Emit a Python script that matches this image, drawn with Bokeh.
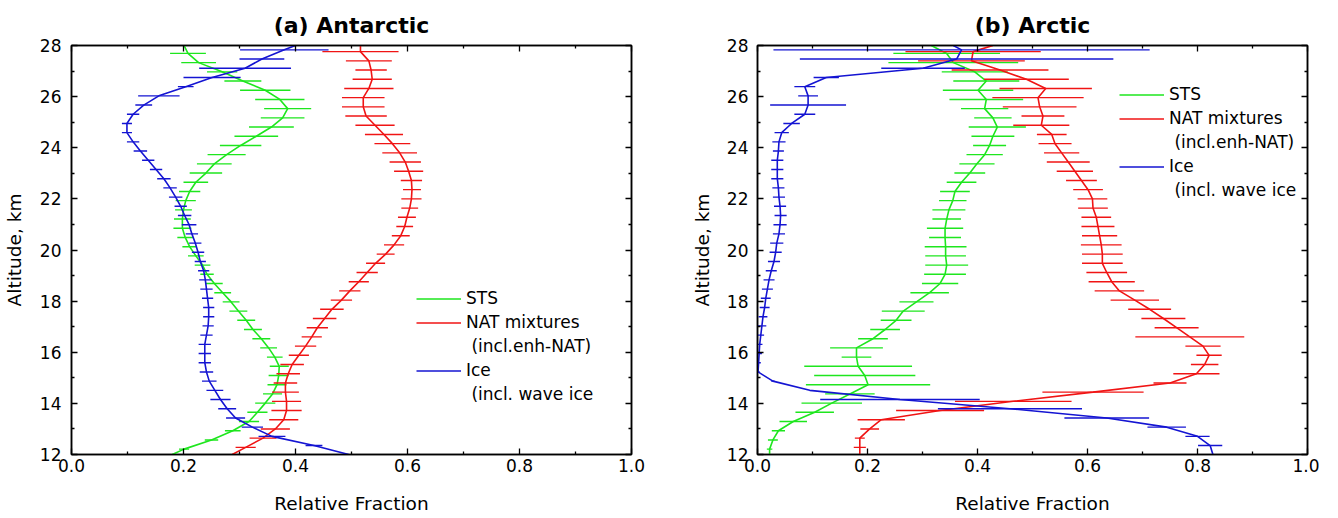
from bokeh.plotting import figure
from bokeh.models import (ColumnDataSource, LinearAxis, FixedTicker, PrintfTickFormatter,
                          Legend, LegendItem, Range1d)
from bokeh.layouts import row
from bokeh.embed import file_html
from bokeh.resources import INLINE

# ---------------- data ----------------
# altitude of the error-bar rows (km), top to bottom
ALT = [27.76, 27.40, 27.04, 26.68, 26.32, 25.96, 25.60, 25.24, 24.88, 24.52,
       24.16, 23.80, 23.44, 23.08, 22.72, 22.36, 22.00, 21.64, 21.28, 20.92,
       20.56, 20.20, 19.84, 19.48, 19.12, 18.76, 18.40, 18.04, 17.68, 17.32,
       16.96, 16.60, 16.24, 15.88, 15.52, 15.16, 14.80, 14.44, 14.08, 13.72,
       13.36, 13.00, 12.64, 12.28]
ALT_TOP = 28.0
ALT_BOTTOM = 12.0
# small altitude shift of each species' rows
SHIFT = {"STS": -0.07, "NAT": 0.0, "ICE": 0.07}

# (a) Antarctic
A_STS = [0.208, 0.227, 0.269, 0.306, 0.346, 0.372, 0.386, 0.377, 0.357, 0.330,
         0.302, 0.277, 0.255, 0.240, 0.222, 0.211, 0.204, 0.200, 0.198, 0.198,
         0.203, 0.211, 0.222, 0.234, 0.242, 0.255, 0.270, 0.285, 0.298, 0.312,
         0.324, 0.339, 0.352, 0.363, 0.371, 0.370, 0.367, 0.359, 0.346, 0.332,
         0.317, 0.288, 0.250, 0.201]
A_STS_ERR = [0.032, 0.031, 0.027, 0.033, 0.045, 0.044, 0.042, 0.039, 0.040, 0.039,
             0.037, 0.034, 0.031, 0.029, 0.022, 0.019, 0.018, 0.015, 0.015, 0.016,
             0.014, 0.013, 0.014, 0.014, 0.012, 0.015, 0.015, 0.015, 0.016, 0.016,
             0.016, 0.016, 0.015, 0.014, 0.017, 0.018, 0.017, 0.017, 0.018, 0.018,
             0.018, 0.014, 0.012, 0.009]
A_STS_ENDS = [0.201, 0.180]

A_NAT = [0.516, 0.531, 0.535, 0.537, 0.531, 0.521, 0.521, 0.526, 0.542, 0.558,
         0.573, 0.586, 0.596, 0.602, 0.607, 0.608, 0.607, 0.604, 0.599, 0.595,
         0.588, 0.576, 0.561, 0.543, 0.528, 0.513, 0.497, 0.482, 0.465, 0.452,
         0.439, 0.429, 0.418, 0.406, 0.394, 0.387, 0.382, 0.382, 0.384, 0.384,
         0.379, 0.364, 0.342, 0.311]
A_NAT_ERR = [0.068, 0.041, 0.028, 0.035, 0.044, 0.038, 0.038, 0.037, 0.035, 0.034,
             0.032, 0.031, 0.028, 0.026, 0.019, 0.016, 0.018, 0.015, 0.016, 0.015,
             0.016, 0.018, 0.016, 0.017, 0.019, 0.018, 0.019, 0.019, 0.021, 0.021,
             0.019, 0.018, 0.019, 0.018, 0.021, 0.021, 0.021, 0.024, 0.026, 0.027,
             0.026, 0.026, 0.024, 0.018]
A_NAT_ENDS = [0.516, 0.287]

A_ICE = [0.380, 0.340, 0.310, 0.251, 0.204, 0.156, 0.129, 0.110, 0.099, 0.099,
         0.110, 0.123, 0.137, 0.151, 0.165, 0.176, 0.186, 0.195, 0.202, 0.210,
         0.215, 0.221, 0.226, 0.230, 0.236, 0.239, 0.241, 0.243, 0.245, 0.245,
         0.244, 0.241, 0.238, 0.238, 0.238, 0.241, 0.246, 0.256, 0.266, 0.278,
         0.293, 0.323, 0.358, 0.433]
A_ICE_ERR = [0.079, 0.040, 0.082, 0.051, 0.014, 0.037, 0.015, 0.011, 0.009, 0.009,
             0.011, 0.012, 0.011, 0.011, 0.012, 0.012, 0.012, 0.011, 0.012, 0.013,
             0.011, 0.011, 0.011, 0.010, 0.010, 0.011, 0.011, 0.010, 0.010, 0.010,
             0.010, 0.011, 0.011, 0.011, 0.011, 0.012, 0.013, 0.015, 0.018, 0.016,
             0.017, 0.019, 0.024, 0.015]
A_ICE_ENDS = [0.400, 0.495]

# (b) Arctic
B_STS = [0.344, 0.356, 0.395, 0.416, 0.401, 0.416, 0.413, 0.428, 0.436, 0.428,
         0.422, 0.413, 0.399, 0.386, 0.371, 0.359, 0.355, 0.348, 0.344, 0.341,
         0.341, 0.342, 0.342, 0.344, 0.341, 0.332, 0.313, 0.289, 0.265, 0.252,
         0.232, 0.210, 0.180, 0.180, 0.183, 0.195, 0.201, 0.168, 0.135, 0.104,
         0.065, 0.038, 0.028, 0.022]
B_STS_ERR = [0.097, 0.118, 0.060, 0.060, 0.064, 0.067, 0.043, 0.034, 0.052, 0.039,
             0.030, 0.033, 0.032, 0.028, 0.027, 0.027, 0.025, 0.030, 0.026, 0.033,
             0.029, 0.038, 0.037, 0.039, 0.038, 0.033, 0.035, 0.031, 0.039, 0.028,
             0.027, 0.027, 0.048, 0.027, 0.098, 0.092, 0.113, 0.045, 0.055, 0.035,
             0.025, 0.012, 0.009, 0.005]
B_STS_ENDS = [0.316, 0.022]

B_NAT = [0.392, 0.389, 0.441, 0.489, 0.524, 0.510, 0.513, 0.519, 0.516, 0.535,
         0.541, 0.553, 0.565, 0.577, 0.589, 0.601, 0.609, 0.610, 0.616, 0.619,
         0.622, 0.625, 0.627, 0.627, 0.635, 0.644, 0.658, 0.686, 0.713, 0.738,
         0.762, 0.786, 0.810, 0.821, 0.813, 0.798, 0.750, 0.610, 0.465, 0.332,
         0.225, 0.204, 0.186, 0.186]
B_NAT_ERR = [0.123, 0.097, 0.088, 0.077, 0.084, 0.083, 0.067, 0.039, 0.051, 0.027,
             0.030, 0.032, 0.039, 0.033, 0.028, 0.027, 0.027, 0.027, 0.027, 0.030,
             0.032, 0.037, 0.037, 0.037, 0.037, 0.042, 0.045, 0.044, 0.039, 0.040,
             0.040, 0.099, 0.032, 0.023, 0.025, 0.042, 0.030, 0.092, 0.106, 0.080,
             0.043, 0.017, 0.009, 0.011]
B_NAT_ENDS = [0.428, 0.186]

B_ICE = [0.371, 0.362, 0.301, 0.125, 0.086, 0.092, 0.092, 0.086, 0.062, 0.044,
         0.039, 0.038, 0.036, 0.036, 0.036, 0.038, 0.039, 0.041, 0.042, 0.041,
         0.039, 0.035, 0.033, 0.030, 0.025, 0.021, 0.018, 0.015, 0.013, 0.010,
         0.008, 0.006, 0.004, 0.003, 0.002, 0.001, 0.028, 0.095, 0.259, 0.459,
         0.635, 0.744, 0.800, 0.823]
B_ICE_ERR = [0.342, 0.285, 0.076, 0.023, 0.019, 0.018, 0.069, 0.019, 0.015, 0.013,
             0.012, 0.010, 0.011, 0.011, 0.011, 0.011, 0.011, 0.011, 0.011, 0.012,
             0.011, 0.012, 0.011, 0.011, 0.010, 0.010, 0.010, 0.009, 0.009, 0.008,
             0.008, 0.006, 0.005, 0.005, 0.004, 0.003, 0.003, 0.000, 0.145, 0.131,
             0.077, 0.035, 0.022, 0.022]
B_ICE_ENDS = [0.356, 0.828]

X_TICKS = [0.0, 0.2, 0.4, 0.6, 0.8, 1.0]
X_MINOR = [0.1, 0.3, 0.5, 0.7, 0.9]
Y_TICKS = [12, 14, 16, 18, 20, 22, 24, 26, 28]
Y_MINOR = [13, 15, 17, 19, 21, 23, 25, 27]

LABELS = ["STS", "NAT mixtures", "\u00a0(incl.enh-NAT)", "Ice", "\u00a0(incl. wave ice"]

# ---------------- style ----------------
FONT = "DejaVu Sans"
C_STS = "#1ee61e"
C_NAT = "#f01414"
C_ICE = "#1414d2"


def style_axis(ax, ticks, minor, show_labels):
    ax.ticker = FixedTicker(ticks=ticks, minor_ticks=minor)
    ax.axis_line_width = 1.5
    ax.axis_line_color = "black"
    ax.major_tick_line_color = "black"
    ax.minor_tick_line_color = "black"
    ax.major_tick_in = 6
    ax.major_tick_out = 0
    ax.minor_tick_in = 3
    ax.minor_tick_out = 0
    ax.major_tick_line_width = 1.3
    ax.minor_tick_line_width = 1.3
    ax.major_label_text_font = FONT
    ax.axis_label_text_font = FONT
    ax.axis_label_text_font_style = "normal"
    ax.axis_label_text_font_size = "18.5px"
    ax.axis_label_text_color = "black"
    if show_labels:
        ax.major_label_text_font_size = "17px"
        ax.major_label_text_color = "black"
    else:
        ax.major_label_text_font_size = "0px"
        ax.major_label_text_color = None
        ax.major_label_standoff = 0


def panel(title, sts, nat, ice, left_border, right_border, frame_w,
          y_lab_standoff, y_tick_standoff, leg_xy):
    p = figure(frame_width=frame_w, frame_height=409,
               x_range=Range1d(0, 1), y_range=Range1d(12, 28),
               output_backend="svg", toolbar_location=None,
               min_border_left=left_border, min_border_right=right_border,
               min_border_top=45, min_border_bottom=60)
    p.title.text = title
    p.title.align = "center"
    p.title.text_font = FONT
    p.title.text_font_size = "22px"
    p.title.text_font_style = "bold"
    p.title.text_color = "black"
    p.title.standoff = 15
    p.xgrid.visible = False
    p.ygrid.visible = False
    p.outline_line_color = "black"
    p.outline_line_width = 1.5
    p.background_fill_color = "white"
    p.border_fill_color = "white"

    style_axis(p.xaxis[0], X_TICKS, X_MINOR, True)
    p.xaxis[0].formatter = PrintfTickFormatter(format="%.1f")
    p.xaxis[0].axis_label = "Relative Fraction"
    p.xaxis[0].major_label_standoff = 4
    p.xaxis[0].axis_label_standoff = 18

    style_axis(p.yaxis[0], Y_TICKS, Y_MINOR, True)
    p.yaxis[0].axis_label = "Altitude, km"
    p.yaxis[0].major_label_standoff = y_tick_standoff
    p.yaxis[0].axis_label_standoff = y_lab_standoff

    top = LinearAxis()
    style_axis(top, X_TICKS, X_MINOR, False)
    p.add_layout(top, "above")
    right = LinearAxis()
    style_axis(right, Y_TICKS, Y_MINOR, False)
    p.add_layout(right, "right")

    renderers = []
    for key, (vals, errs, ends), color in (("STS", sts, C_STS), ("NAT", nat, C_NAT),
                                            ("ICE", ice, C_ICE)):
        alts = [a + SHIFT[key] for a in ALT]
        src = ColumnDataSource(dict(
            y=alts,
            lo=[v - e for v, e in zip(vals, errs)],
            hi=[v + e for v, e in zip(vals, errs)]))
        p.segment(x0="lo", x1="hi", y0="y", y1="y", source=src,
                  line_color=color, line_width=1.4)
        line_src = ColumnDataSource(dict(
            x=[ends[0]] + list(vals) + [ends[1]],
            y=[ALT_TOP] + alts + [ALT_BOTTOM]))
        r = p.line("x", "y", source=line_src, line_color=color, line_width=1.6)
        renderers.append(r)

    blank = p.line(x=[], y=[], line_alpha=0)
    items = [LegendItem(label=LABELS[0], renderers=[renderers[0]]),
             LegendItem(label=LABELS[1], renderers=[renderers[1]]),
             LegendItem(label=LABELS[2], renderers=[blank]),
             LegendItem(label=LABELS[3], renderers=[renderers[2]]),
             LegendItem(label=LABELS[4], renderers=[blank])]
    leg = Legend(items=items, location=leg_xy, orientation="vertical",
                 glyph_width=45, glyph_height=19, label_height=19,
                 spacing=4, padding=0, margin=0, label_standoff=5,
                 label_text_font=FONT, label_text_font_size="17px",
                 label_text_color="black",
                 border_line_color=None, background_fill_alpha=0)
    p.add_layout(leg, "center")
    return p


pa = panel("(a) Antarctic", (A_STS, A_STS_ERR, A_STS_ENDS), (A_NAT, A_NAT_ERR, A_NAT_ENDS),
           (A_ICE, A_ICE_ERR, A_ICE_ENDS), 68, 20, 560, 12, 10, (345, 50))
pb = panel("(b) Arctic", (B_STS, B_STS_ERR, B_STS_ENDS), (B_NAT, B_NAT_ERR, B_NAT_ENDS),
           (B_ICE, B_ICE_ERR, B_ICE_ENDS), 106, 12, 550, 11, 9, (362, 254))

layout = row(pa, pb)
open("out.html", "w").write(file_html(layout, INLINE))
